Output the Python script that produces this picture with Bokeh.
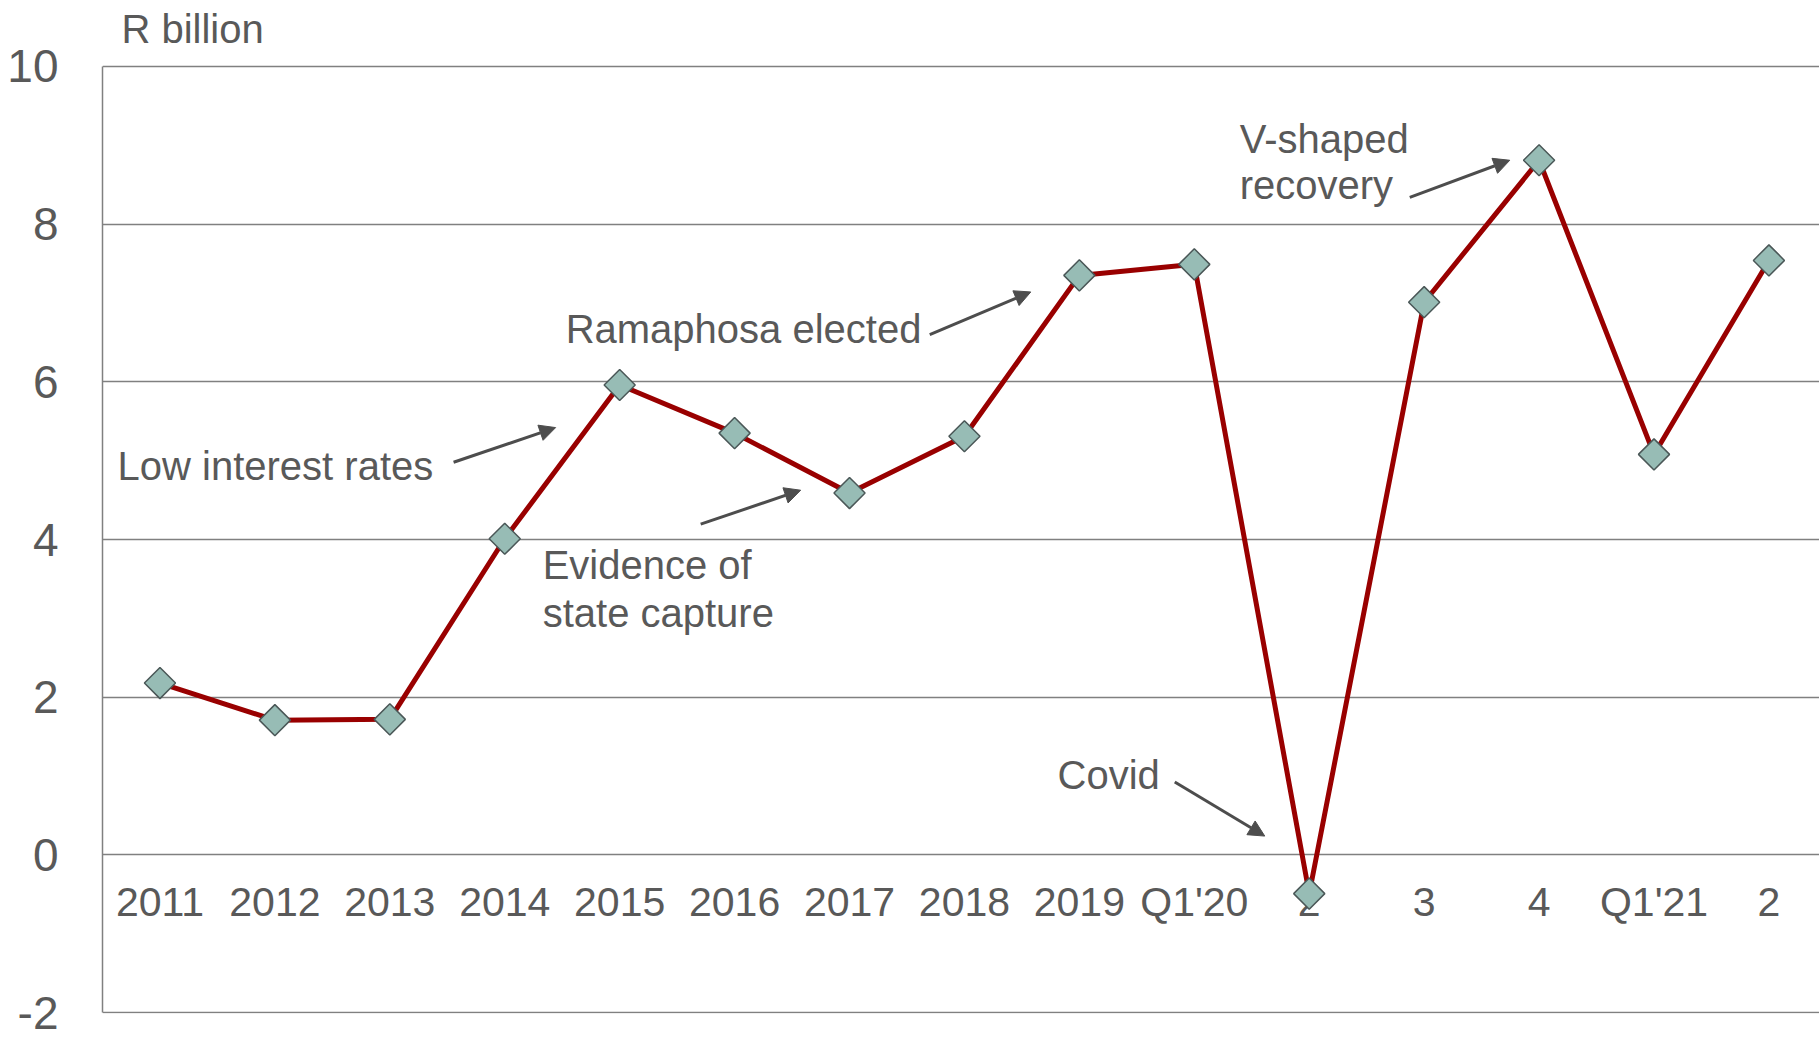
import math
from bokeh.plotting import figure
from bokeh.models import (ColumnDataSource, FixedTicker, Range1d, Label, Arrow,
                          NormalHead)
from bokeh.core.properties import value
from bokeh.embed import file_html
from bokeh.resources import INLINE

# ---- data ----
categories = ["2011", "2012", "2013", "2014", "2015", "2016", "2017", "2018",
              "2019", "Q1'20", "2", "3", "4", "Q1'21", "2"]
values = [2.18, 1.71, 1.72, 4.01, 5.96, 5.35, 4.59, 5.31, 7.35, 7.49,
          -0.49, 7.01, 8.81, 5.08, 7.54]
y_ticks = [-2, 0, 2, 4, 6, 8, 10]
y_tick_labels = {-2: "-2", 0: "0", 2: "2", 4: "4", 6: "6", 8: "8", 10: "10"}

FONT = "Liberation Sans"
TXT = "#595959"
GRID = "#808080"

xs = list(range(len(categories)))
src = ColumnDataSource(dict(x=xs, y=values, label=categories,
                            zero=[0] * len(categories)))

p = figure(width=1819, height=1038, output_backend="svg", toolbar_location=None,
           x_range=Range1d(-0.5, 14.44), y_range=Range1d(-2.01, 10.836),
           min_border_left=102, min_border_right=0, min_border_top=0,
           min_border_bottom=25)
p.outline_line_color = None
p.background_fill_color = "white"
p.border_fill_color = "white"

# axes
p.xaxis.visible = False
p.xgrid.visible = False
p.yaxis.ticker = FixedTicker(ticks=y_ticks)
p.yaxis.bounds = (-2, 10)
p.yaxis.major_label_overrides = y_tick_labels
p.yaxis.major_tick_line_color = None
p.yaxis.minor_tick_line_color = None
p.yaxis.major_tick_out = 0
p.yaxis.major_tick_in = 0
p.yaxis.axis_line_color = GRID
p.yaxis.axis_line_width = 1.5
p.yaxis.major_label_standoff = 44
p.yaxis.major_label_text_font = FONT
p.yaxis.major_label_text_font_size = "46px"
p.yaxis.major_label_text_color = TXT
p.ygrid.ticker = FixedTicker(ticks=y_ticks)
p.ygrid.grid_line_color = GRID
p.ygrid.grid_line_width = 1.5

# category labels just under the zero line
p.text(x="x", y="zero", text="label", source=src, text_font=value(FONT),
       text_font_size="41px", text_color=TXT, text_align="center",
       text_baseline="alphabetic", y_offset=47)

# series
p.line(x="x", y="y", source=src, line_color="#990000", line_width=5)
p.scatter(x="x", y="y", source=src, marker="square", angle=math.pi / 4,
          size=22, fill_color="#97BCB5", line_color="#4A5757", line_width=1.5)

# annotations
def add_label(x, y, text):
    p.add_layout(Label(x=x, y=y, text=text, text_font=FONT,
                       text_font_size="40px", text_color=TXT,
                       text_align="left", text_baseline="alphabetic"))

def add_arrow(x0, y0, x1, y1):
    p.add_layout(Arrow(x_start=x0, y_start=y0, x_end=x1, y_end=y1,
                       line_color="#4D4D4D", line_width=3,
                       end=NormalHead(size=16, fill_color="#4D4D4D",
                                      line_color="#4D4D4D")))

add_label(-0.335, 10.47, "R billion")
add_label(-0.369, 4.935, "Low interest rates")
add_arrow(2.555, 4.98, 3.443, 5.42)
add_label(3.53, 6.675, "Ramaphosa elected")
add_arrow(6.698, 6.60, 7.577, 7.14)
add_label(3.33, 3.675, "Evidence of")
add_label(3.33, 3.065, "state capture")
add_arrow(4.705, 4.195, 5.575, 4.626)
add_label(9.395, 9.085, "V-shaped")
add_label(9.395, 8.495, "recovery")
add_arrow(10.875, 8.34, 11.745, 8.81)
add_label(7.81, 1.015, "Covid")
add_arrow(8.83, 0.925, 9.613, 0.24)

open("out.html", "w").write(file_html(p, INLINE))
